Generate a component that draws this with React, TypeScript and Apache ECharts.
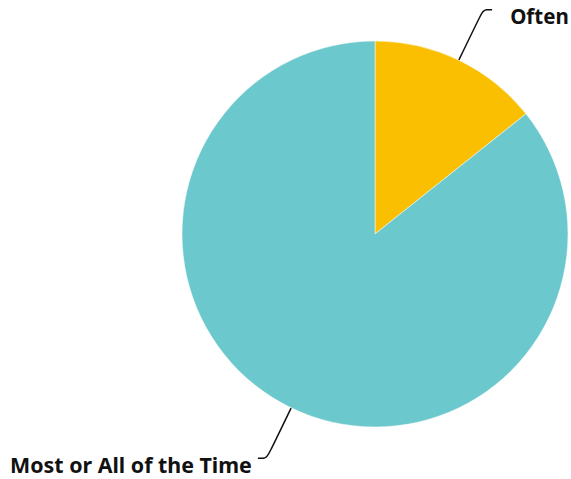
import React, { useEffect, useRef } from "react";
import * as echarts from "echarts";

const categories = ["Often", "Most or All of the Time"];
const values = [14.3, 85.7];
const colors = ["#F9BF00", "#6BC8CC"];

export default function App() {
  const ref = useRef<HTMLDivElement>(null);
  useEffect(() => {
    document.body.style.margin = "0";
    const chart = echarts.init(ref.current!, null, { renderer: "svg" });
    const textStyle = {
      color: "#111111",
      fontFamily: "Noto Sans",
      fontWeight: "bold",
      fontSize: 20.5,
      lineHeight: 26,
    };
    chart.setOption({
      animation: false,
      backgroundColor: "#ffffff",
      series: [
        {
          type: "pie",
          center: [375, 234],
          radius: 193,
          startAngle: 90,
          clockwise: true,
          avoidLabelOverlap: false,
          data: categories.map((c, i) => ({
            name: c,
            value: values[i],
            itemStyle: { color: colors[i] },
            label:
              i === 0
                ? { distanceToLabelLine: 18 }
                : {
                    distanceToLabelLine: 6,
                    rich: {
                      gap: { height: 12, lineHeight: 12, fontSize: 10 },
                      t: { ...textStyle, fontSize: 21.4 },
                    },
                  },
          })),
          itemStyle: { borderColor: "#ffffff", borderWidth: 0.5 },
          label: {
            show: true,
            position: "outside",
            formatter: "{gap|}\n{t|{b}}",
            rich: {
              gap: { height: 12, lineHeight: 12, fontSize: 10 },
              t: textStyle,
            },
          },
          labelLine: {
            show: true,
            length: 56,
            length2: 9,
            smooth: true,
            lineStyle: { color: "#111111", width: 1.5 },
          },
        },
      ],
    });
    return () => chart.dispose();
  }, []);
  return <div ref={ref} style={{ width: 571, height: 479 }} />;
}
